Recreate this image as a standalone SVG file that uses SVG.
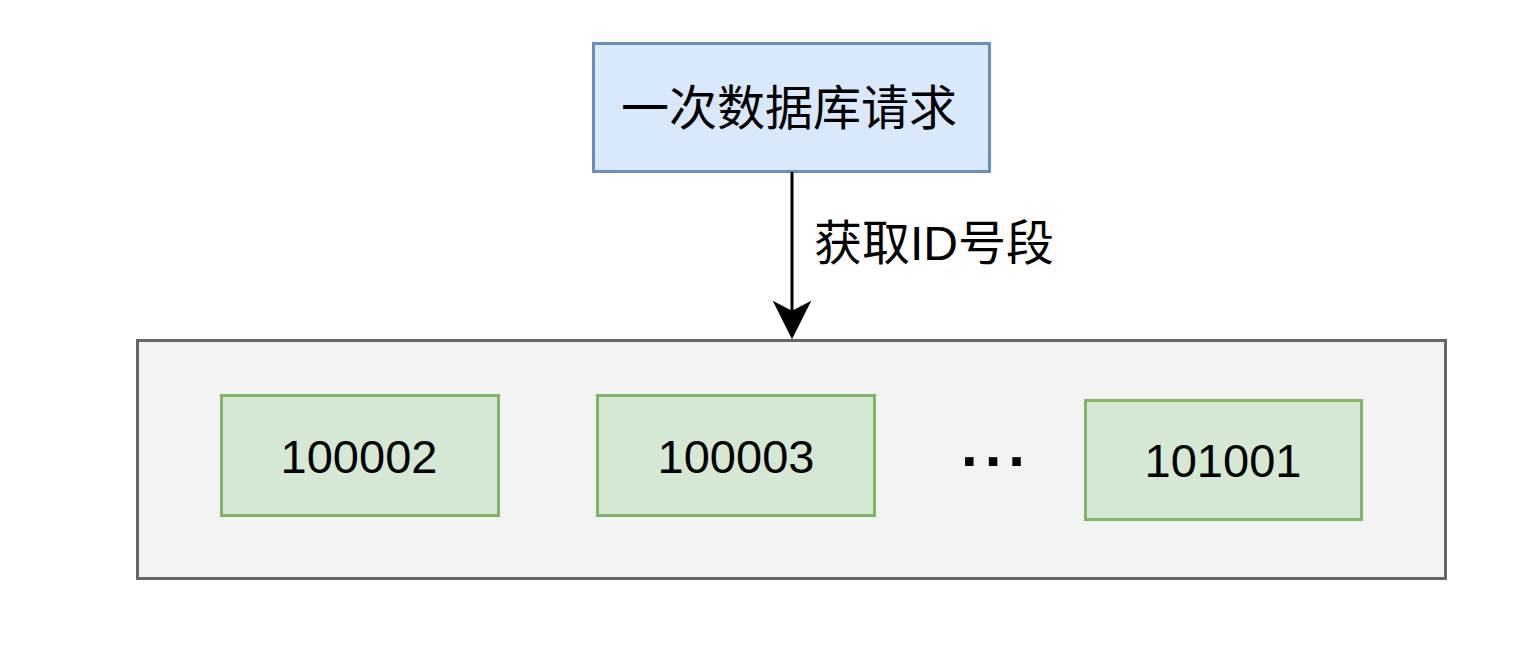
<svg xmlns="http://www.w3.org/2000/svg" width="1516" height="652" viewBox="0 0 1516 652">
<style>
text{font-family:"Liberation Sans","Noto Sans CJK SC",sans-serif;fill:#000}
.blue{fill:#dae8fc;stroke:#6c8ebf;stroke-width:3}
.grey{fill:#f3f3f3;stroke:#666666;stroke-width:3}
.green{fill:#d5e8d4;stroke:#82b366;stroke-width:3}
.num{font-size:47px;text-anchor:middle}
.cjk{font-size:48px}
</style>
<rect width="1516" height="652" fill="#ffffff"/>
<g id="container">
<rect class="grey" x="137.5" y="340.5" width="1308" height="238"/>
</g>
<g id="request">
<rect class="blue" x="593.5" y="43.5" width="396" height="128"/>
<text class="cjk" x="789" y="125" text-anchor="middle">一次数据库请求</text>
</g>
<g id="id1">
<rect class="green" x="221.5" y="395.5" width="277" height="120"/>
<text class="num" x="359" y="473">100002</text>
</g>
<g id="id2">
<rect class="green" x="597.5" y="395.5" width="277" height="120"/>
<text class="num" x="736" y="473">100003</text>
</g>
<g id="ellipsis">
<text x="961" y="466" style="font-size:60px;font-weight:bold;letter-spacing:7px">...</text>
</g>
<g id="id3">
<rect class="green" x="1085.5" y="400.5" width="276" height="119"/>
<text class="num" x="1223" y="477">101001</text>
</g>
<g id="connectors">
<line x1="792" y1="172" x2="792" y2="312" stroke="#000" stroke-width="3"/>
<polygon points="792,337 775,303 792,312 809,303" fill="#000" stroke="#000" stroke-width="2"/>
<text class="cjk" x="814" y="260">获取ID号段</text>
</g>
</svg>
